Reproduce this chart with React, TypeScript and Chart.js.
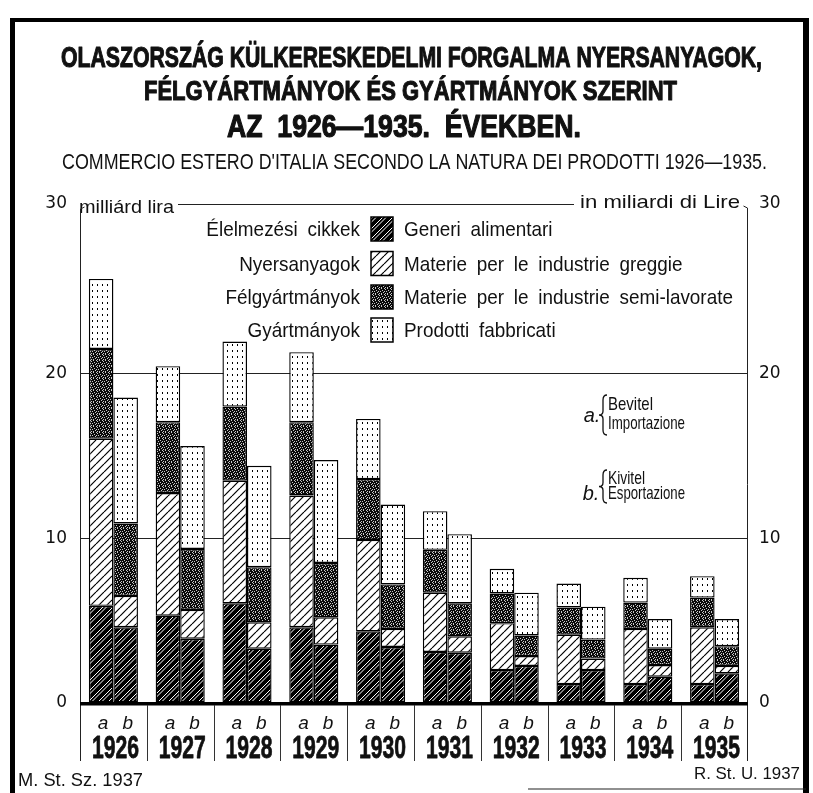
import React, { useEffect, useRef } from "react";
import { Chart, registerables } from "chart.js";
Chart.register(...registerables);

// ---------- data ----------
const years = ["1926", "1927", "1928", "1929", "1930", "1931", "1932", "1933", "1934", "1935"];
const flowLabels = ["a", "b"];
// a = Bevitel / Importazione (imports), billion lire
const importFood = [5.9, 5.3, 6.05, 4.6, 4.35, 3.1, 2.0, 1.15, 1.15, 1.15];
const importRaw = [10.15, 7.45, 7.45, 8.0, 5.55, 3.6, 2.85, 3.0, 3.35, 3.45];
const importSemi = [5.45, 4.3, 4.5, 4.45, 3.7, 2.6, 1.8, 1.65, 1.6, 1.8];
const importManuf = [4.25, 3.4, 3.95, 4.25, 3.65, 2.35, 1.5, 1.45, 1.5, 1.3];
// b = Kivitel / Esportazione (exports)
const exportFood = [4.6, 3.9, 3.3, 3.55, 3.4, 3.05, 2.25, 2.0, 1.6, 1.8];
const exportRaw = [1.9, 1.75, 1.6, 1.65, 1.1, 1.0, 0.6, 0.7, 0.7, 0.45];
const exportSemi = [4.4, 3.7, 3.35, 3.3, 2.7, 2.0, 1.25, 1.15, 1.0, 1.2];
const exportManuf = [7.65, 6.25, 6.15, 6.25, 4.85, 4.2, 2.6, 2.0, 1.8, 1.65];
const yTicks = [0, 10, 20, 30];
const Y_TOP = 30.3;
const groupsHU = ["Élelmezési cikkek", "Nyersanyagok", "Félgyártmányok", "Gyártmányok"];
const groupsIT = [
  "Generi alimentari",
  "Materie per le industrie greggie",
  "Materie per le industrie semi-lavorate",
  "Prodotti fabbricati",
];
const titleLines = [
  "OLASZORSZÁG KÜLKERESKEDELMI FORGALMA NYERSANYAGOK,",
  "FÉLGYÁRTMÁNYOK ÉS GYÁRTMÁNYOK SZERINT",
  "AZ  1926—1935.  ÉVEKBEN.",
];
const subtitle = "COMMERCIO ESTERO D'ITALIA SECONDO LA NATURA DEI PRODOTTI 1926—1935.";
const unitHU = "milliárd lira";
const unitIT = "in miliardi di Lire";
const flowA = ["Bevitel", "Importazione"];
const flowB = ["Kivitel", "Esportazione"];
const sourceLeft = "M. St. Sz. 1937";
const sourceRight = "R. St. U. 1937";

// ---------- styling ----------
const SANS = "'Liberation Sans', Arial, sans-serif";
const INK = "#111";

function makePatterns() {
  const mk = (w: number, h: number, draw: (c: CanvasRenderingContext2D) => void) => {
    const cv = document.createElement("canvas");
    cv.width = w;
    cv.height = h;
    const c = cv.getContext("2d")!;
    draw(c);
    const tmp = document.createElement("canvas").getContext("2d")!;
    return tmp.createPattern(cv, "repeat")!;
  };
  const food = mk(10, 10, (c) => {
    c.fillStyle = "#000";
    c.fillRect(0, 0, 10, 10);
    c.strokeStyle = "#fff";
    c.lineWidth = 1;
    for (const off of [-10, 0, 10]) {
      for (const d of [0, 3.5]) {
        c.beginPath();
        c.moveTo(off + d, 10);
        c.lineTo(off + d + 10, 0);
        c.stroke();
      }
    }
  });
  const raw = mk(8, 8, (c) => {
    c.fillStyle = "#fff";
    c.fillRect(0, 0, 8, 8);
    c.strokeStyle = "#000";
    c.lineWidth = 1.2;
    for (const off of [-8, 0, 8]) {
      c.beginPath();
      c.moveTo(off, 8);
      c.lineTo(off + 8, 0);
      c.stroke();
    }
  });
  const semi = mk(6, 6, (c) => {
    c.fillStyle = "#0a0a0a";
    c.fillRect(0, 0, 6, 6);
    c.fillStyle = "#c8c8c8";
    const pts = [[0, 0], [3, 0], [1, 1], [4, 2], [0, 3], [2, 3], [5, 4], [1, 5], [3, 5]];
    for (const [x, y] of pts) c.fillRect(x, y, 1, 1);
  });
  const manuf = mk(5, 6, (c) => {
    c.fillStyle = "#fff";
    c.fillRect(0, 0, 5, 6);
    c.fillStyle = "#000";
    c.fillRect(2, 2, 1, 2);
  });
  return [food, raw, semi, manuf];
}

type TextOpts = {
  align?: "left" | "right" | "center";
  width?: number;
  sx?: number;
  stroke?: number;
  wordSpacing?: string;
};

function drawText(
  ctx: CanvasRenderingContext2D,
  s: string,
  x: number,
  y: number,
  font: string,
  o: TextOpts = {}
) {
  const align = o.align ?? "left";
  ctx.save();
  ctx.font = font;
  (ctx as any).wordSpacing = o.wordSpacing ?? "0px";
  ctx.textAlign = "left";
  ctx.textBaseline = "alphabetic";
  const m = ctx.measureText(s).width;
  const k = o.width ? o.width / m : o.sx ?? 1;
  const w = m * k;
  const left = align === "left" ? x : align === "right" ? x - w : x - w / 2;
  ctx.translate(left, y);
  ctx.scale(k, 1);
  ctx.fillStyle = INK;
  ctx.fillText(s, 0, 0);
  if (o.stroke) {
    ctx.strokeStyle = INK;
    ctx.lineWidth = o.stroke;
    ctx.lineJoin = "round";
    ctx.strokeText(s, 0, 0);
  }
  ctx.restore();
}

function line(ctx: CanvasRenderingContext2D, x1: number, y1: number, x2: number, y2: number) {
  ctx.beginPath();
  ctx.moveTo(x1, y1);
  ctx.lineTo(x2, y2);
  ctx.stroke();
}

function brace(ctx: CanvasRenderingContext2D, x: number, y0: number, y1: number) {
  const mid = (y0 + y1) / 2;
  const w = 4;
  ctx.beginPath();
  ctx.moveTo(x + w, y0);
  ctx.quadraticCurveTo(x, y0, x, y0 + 5);
  ctx.lineTo(x, mid - 4);
  ctx.quadraticCurveTo(x, mid, x - w, mid);
  ctx.quadraticCurveTo(x, mid, x, mid + 4);
  ctx.lineTo(x, y1 - 5);
  ctx.quadraticCurveTo(x, y1, x + w, y1);
  ctx.stroke();
}

export default function App() {
  const ref = useRef<HTMLCanvasElement>(null);

  useEffect(() => {
    const canvas = ref.current!;
    const patterns = makePatterns();

    const deco = {
      id: "deco",
      beforeDraw(chart: any) {
        const { ctx, width, height } = chart;
        ctx.save();
        ctx.fillStyle = "#fff";
        ctx.fillRect(0, 0, width, height);
        ctx.restore();
      },
      afterDraw(chart: any) {
        const ctx: CanvasRenderingContext2D = chart.ctx;
        const xs = chart.scales.x;
        const ys = chart.scales.y;
        const { left, right, top } = chart.chartArea;
        const y0 = ys.getPixelForValue(0);
        ctx.save();

        // frame
        ctx.fillStyle = "#000";
        ctx.fillRect(10, 18, 799, 4);
        ctx.fillRect(10, 18, 5, 775);
        ctx.fillRect(803, 18, 6, 775);
        ctx.strokeStyle = "#222";
        ctx.lineWidth = 1.2;
        line(ctx, 528, 789, 806, 789);

        // titles
        drawText(ctx, titleLines[0], 61, 67, `bold 29px ${SANS}`, { width: 701, stroke: 1.1 });
        drawText(ctx, titleLines[1], 144, 100, `bold 27px ${SANS}`, { width: 533, stroke: 1.1 });
        drawText(ctx, titleLines[2], 227, 137, `bold 31px ${SANS}`, { width: 354, stroke: 1.2 });
        drawText(ctx, subtitle, 62, 169, `22px ${SANS}`, { width: 705 });

        // unit header line
        drawText(ctx, unitHU, 79, 213, `19px ${SANS}`, { width: 95 });
        drawText(ctx, unitIT, 740, 208, `19px ${SANS}`, { align: "right", width: 160 });
        ctx.strokeStyle = "#222";
        ctx.lineWidth = 1;
        line(ctx, 178, 204.5, 574, 204.5);

        // plot side lines with hooks
        const lx = Math.round(left) + 0.5;
        const rx = Math.round(right) - 0.5;
        line(ctx, lx, top + 5, lx, 761);
        line(ctx, lx, top + 5, lx + 4, top + 3);
        line(ctx, rx, top + 4, rx, 761);
        line(ctx, rx, top + 4, rx - 4, top + 2);

        // baseline
        ctx.fillStyle = "#000";
        ctx.fillRect(left, y0 - 1, right - left, 3.5);

        // category separators
        ctx.strokeStyle = "#333";
        ctx.lineWidth = 1;
        for (let i = 0; i < years.length - 1; i++) {
          const x = Math.round((xs.getPixelForValue(i) + xs.getPixelForValue(i + 1)) / 2) + 0.5;
          line(ctx, x, y0 + 2, x, 761);
        }

        // a / b labels and years
        const metaA = chart.getDatasetMeta(0);
        const metaB = chart.getDatasetMeta(4);
        for (let i = 0; i < years.length; i++) {
          drawText(ctx, flowLabels[0], metaA.data[i].x + 2, 729, `italic 19px ${SANS}`, { align: "center" });
          drawText(ctx, flowLabels[1], metaB.data[i].x + 2, 729, `italic 19px ${SANS}`, { align: "center" });
          drawText(ctx, years[i], xs.getPixelForValue(i) + 2, 758, `bold 32px ${SANS}`, {
            align: "center",
            width: 47,
            stroke: 0.8,
          });
        }

        // legend
        const rowsY = [229, 263.5, 297, 330];
        for (let i = 0; i < 4; i++) {
          const cy = rowsY[i];
          drawText(ctx, groupsHU[i], 360, cy + 7, `21px ${SANS}`, { align: "right", sx: 0.9, wordSpacing: "5px" });
          drawText(ctx, groupsIT[i], 404, cy + 7, `21px ${SANS}`, { sx: 0.9, wordSpacing: "5px" });
          ctx.fillStyle = patterns[i];
          ctx.fillRect(371, cy - 12, 22, 24);
          ctx.strokeStyle = "#000";
          ctx.lineWidth = 1.5;
          ctx.strokeRect(371, cy - 12, 22, 24);
        }

        // a / b explanation
        drawText(ctx, "a.", 592, 422, `italic 20px ${SANS}`, { align: "center" });
        drawText(ctx, "b.", 591, 500, `italic 20px ${SANS}`, { align: "center" });
        ctx.strokeStyle = "#111";
        ctx.lineWidth = 1.3;
        brace(ctx, 603, 395, 435);
        brace(ctx, 603, 470, 503);
        drawText(ctx, flowA[0], 608, 410, `19px ${SANS}`, { width: 45 });
        drawText(ctx, flowA[1], 608, 429, `19px ${SANS}`, { width: 77 });
        drawText(ctx, flowB[0], 608, 484, `19px ${SANS}`, { width: 37 });
        drawText(ctx, flowB[1], 608, 499, `19px ${SANS}`, { width: 77 });

        // sources
        drawText(ctx, sourceLeft, 18, 786, `18px ${SANS}`, { width: 125 });
        drawText(ctx, sourceRight, 694, 779, `17px ${SANS}`, { width: 106 });

        ctx.restore();
      },
    };

    const barStyle = (i: number) => ({
      backgroundColor: patterns[i],
      borderColor: "#000",
      borderWidth: 1.4,
      borderSkipped: false as const,
      categoryPercentage: 0.735,
      barPercentage: 1.0,
    });

    const buildTicks = (scale: any) => {
      scale.ticks = yTicks.map((v) => ({ value: v === 30 ? Y_TOP : v }));
    };
    const tickLabel = (v: any) => (Number(v) >= 30 ? "30" : String(v));
    const tickFont = { family: "'DejaVu Sans', sans-serif", size: 17 };

    const chart = new Chart(canvas, {
      type: "bar",
      data: {
        labels: years,
        datasets: [
          { label: groupsHU[0] + " a", data: importFood, stack: "a", ...barStyle(0) },
          { label: groupsHU[1] + " a", data: importRaw, stack: "a", ...barStyle(1) },
          { label: groupsHU[2] + " a", data: importSemi, stack: "a", ...barStyle(2) },
          { label: groupsHU[3] + " a", data: importManuf, stack: "a", ...barStyle(3) },
          { label: groupsHU[0] + " b", data: exportFood, stack: "b", ...barStyle(0) },
          { label: groupsHU[1] + " b", data: exportRaw, stack: "b", ...barStyle(1) },
          { label: groupsHU[2] + " b", data: exportSemi, stack: "b", ...barStyle(2) },
          { label: groupsHU[3] + " b", data: exportManuf, stack: "b", ...barStyle(3) },
        ] as any,
      },
      options: {
        animation: false,
        responsive: false,
        devicePixelRatio: 1,
        layout: { padding: { top: 204, left: 0, right: 0, bottom: 0 } },
        plugins: {
          legend: { display: false },
          tooltip: { enabled: false },
          title: { display: false },
        },
        scales: {
          x: {
            stacked: true,
            grid: { display: false },
            border: { display: false },
            ticks: { display: false },
            afterFit: (s: any) => {
              s.height = 90;
            },
          },
          y: {
            stacked: true,
            position: "left",
            min: 0,
            max: Y_TOP,
            afterBuildTicks: buildTicks,
            afterFit: (s: any) => {
              s.width = 80;
            },
            border: { display: false },
            grid: {
              drawTicks: false,
              lineWidth: 1,
              color: (c: any) =>
                c.tick && (c.tick.value === 10 || c.tick.value === 20) ? "#222" : "rgba(0,0,0,0)",
            },
            ticks: { padding: 13, color: INK, font: tickFont, callback: tickLabel },
          },
          y2: {
            position: "right",
            min: 0,
            max: Y_TOP,
            afterBuildTicks: buildTicks,
            afterFit: (s: any) => {
              s.width = 65;
            },
            border: { display: false },
            grid: { display: false, drawTicks: false },
            ticks: { padding: 11, color: INK, font: tickFont, callback: tickLabel },
          },
        },
      } as any,
      plugins: [deco],
    });

    return () => chart.destroy();
  }, []);

  return (
    <div style={{ position: "fixed", left: 0, top: 0, width: 813, height: 793, background: "#fff" }}>
      <canvas ref={ref} width={813} height={793} style={{ width: 813, height: 793, display: "block" }} />
    </div>
  );
}
